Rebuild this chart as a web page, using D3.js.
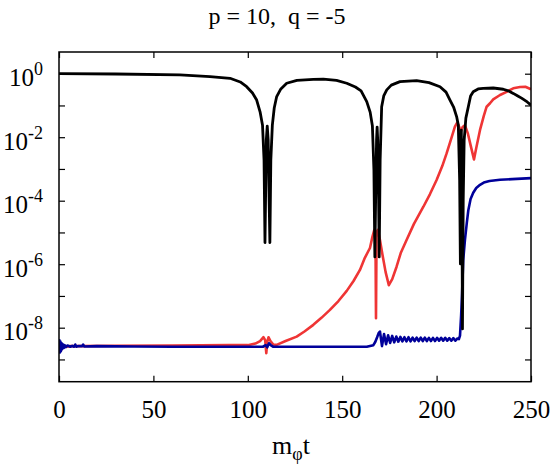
<!DOCTYPE html>
<html>
<head>
<meta charset="utf-8">
<script src="https://cdn.jsdelivr.net/npm/d3@7"></script>
<style>
  html, body { margin: 0; padding: 0; background: #fff; }
  svg { display: block; }
  svg text, svg tspan { font-family: 'Liberation Serif', 'Times New Roman', serif; fill: #000; }
</style>
</head>
<body>
<svg id="chart" width="555" height="471"></svg>
<script>
// ---- data (time m_phi t, and log10 of plotted quantity) ----
const titleText = "p = 10,  q = -5";
const xTickValues = [0, 50, 100, 150, 200, 250];
const yTickExponents = [0, -1, -2, -3, -4, -5, -6, -7, -8, -9];
const yLabelExponents = [0, -2, -4, -6, -8];

const blackT = [0, 30, 64, 80, 90.6, 96, 99.4, 102.5, 104.7, 106.5, 107.8, 108.6, 109.1, 109.4, 109.8, 110.3, 110.8, 111.3, 111.7, 112.2, 113, 114, 115.3, 117.5, 120.6, 126, 134.7, 140, 147, 152.4, 157, 160, 163, 164.8, 166, 166.8, 167.3, 167.7, 168.2, 168.5, 168.8, 169.3, 169.6, 170.1, 170.9, 172, 173.6, 176, 180.6, 189.4, 196, 201.8, 205, 207.1, 209, 210.6, 211.5, 212.2, 212.6, 212.9, 213.1, 213.4, 213.7, 214.1, 214.6, 215.5, 216.8, 218, 219.4, 222, 224.7, 230, 235.3, 238, 240.6, 243, 245, 248, 250];
const blackLog = [0, -0.01, -0.04, -0.09, -0.145, -0.26, -0.41, -0.61, -0.83, -1.2, -1.62, -2.72, -5.32, -3.98, -2.09, -1.65, -2.09, -3.98, -5.32, -2.72, -1.62, -1.08, -0.72, -0.48, -0.30, -0.21, -0.18, -0.17, -0.21, -0.30, -0.42, -0.54, -0.88, -1.21, -1.65, -3.03, -5.77, -3.98, -2.09, -1.68, -2.09, -3.98, -5.77, -2.72, -1.04, -0.70, -0.51, -0.36, -0.25, -0.22, -0.28, -0.41, -0.58, -0.83, -1.05, -1.35, -1.62, -3.35, -5.99, -3.35, -1.78, -3.98, -8.04, -3.98, -2.09, -1.40, -1.04, -0.70, -0.57, -0.48, -0.46, -0.45, -0.49, -0.54, -0.62, -0.70, -0.77, -0.89, -0.99];

const redT = [0, 0.25, 0.5, 0.75, 1.0, 1.3, 1.6, 2.0, 2.5, 3.0, 4, 6, 10, 30, 60, 90, 100, 104, 106.5, 108.3, 109.2, 109.8, 110.3, 111, 112, 113.5, 115.3, 120, 125.9, 130, 134.7, 139, 143.5, 148, 152.4, 156, 159.4, 162, 164.7, 166, 167, 167.6, 167.9, 168.2, 168.9, 170, 171.5, 173, 174.7, 176.5, 178.8, 181, 184.1, 188, 193, 196.5, 200, 203, 205.3, 207.5, 209.7, 210.9, 212, 212.8, 213.8, 215, 216.5, 218, 219.8, 221, 223, 225, 226.5, 228.3, 230, 233.6, 237.1, 240.6, 244.2, 247, 250];
const redLog = [-8.6, -8.45, -8.75, -8.48, -8.72, -8.52, -8.66, -8.55, -8.62, -8.57, -8.6, -8.58, -8.58, -8.57, -8.56, -8.55, -8.55, -8.5, -8.42, -8.30, -8.39, -8.8, -8.45, -8.30, -8.42, -8.53, -8.54, -8.42, -8.28, -8.12, -7.91, -7.69, -7.44, -7.16, -6.84, -6.53, -6.18, -5.80, -5.49, -5.14, -4.92, -5.0, -7.70, -5.0, -4.92, -5.24, -5.76, -6.25, -6.66, -6.47, -6.08, -5.65, -5.24, -4.73, -4.19, -3.79, -3.35, -2.91, -2.51, -2.09, -1.67, -1.54, -1.68, -1.83, -1.68, -1.62, -1.87, -2.25, -2.70, -2.34, -1.77, -1.33, -1.04, -0.93, -0.81, -0.67, -0.57, -0.46, -0.42, -0.41, -0.49];

const blueT = [0, 0.25, 0.5, 0.75, 1.0, 1.3, 1.6, 2.0, 2.5, 3.0, 3.6, 4.5, 6, 7, 8, 8.6, 9.2, 10, 12.3, 12.8, 13.3, 20, 40, 60, 80, 100, 106, 108, 109.5, 110.3, 111.2, 112.3, 113.5, 130, 150, 163, 166.5, 167.5, 168.5, 169.3,
  170.00, 171.08, 172.16, 173.24, 174.32, 175.40, 176.48, 177.56, 178.64, 179.72, 180.80, 181.88, 182.96, 184.04, 185.12, 186.20, 187.28, 188.36, 189.44, 190.52, 191.60, 192.68, 193.76, 194.84, 195.92, 197.00, 198.08, 199.16, 200.24, 201.32, 202.40, 203.48, 204.56, 205.64, 206.72, 207.80, 208.88, 209.96, 211.04,
  211.8, 212.4, 213.0, 213.5, 214.1, 215.0, 216.0, 216.8, 218, 219.4, 221, 223, 225, 228, 233.6, 240, 250];
const blueLog = [-8.57, -8.40, -8.78, -8.44, -8.74, -8.48, -8.68, -8.52, -8.64, -8.55, -8.61, -8.56, -8.6, -8.57, -8.6, -8.53, -8.6, -8.58, -8.58, -8.53, -8.59, -8.58, -8.59, -8.6, -8.6, -8.6, -8.6, -8.6, -8.55, -8.62, -8.49, -8.56, -8.6, -8.6, -8.6, -8.6, -8.55, -8.45, -8.3, -8.17,
  -8.12, -8.58, -8.20, -8.52, -8.24, -8.48, -8.26, -8.46, -8.28, -8.44, -8.29, -8.43, -8.30, -8.43, -8.30, -8.43, -8.31, -8.42, -8.31, -8.42, -8.31, -8.42, -8.31, -8.42, -8.32, -8.42, -8.32, -8.42, -8.32, -8.41, -8.32, -8.41, -8.32, -8.41, -8.33, -8.41, -8.33, -8.41, -8.34,
  -8.36, -8.25, -7.6, -6.9, -5.87, -5.24, -4.7, -4.3, -3.95, -3.75, -3.6, -3.5, -3.43, -3.38, -3.34, -3.32, -3.29];

// ---- layout ----
const FONT = "'Liberation Serif', 'Times New Roman', serif";
const svg = d3.select("#chart");
const plot = { left: 59, right: 531, top: 52, bottom: 381.7 };
const x = d3.scaleLinear().domain([0, 250]).range([plot.left, plot.right]);
const y = d3.scaleLog().domain([Math.pow(10, -9.701), Math.pow(10, 0.6835)]).range([plot.bottom, plot.top]);

function pairs(ts, logs) { return ts.map((t, i) => [t, Math.pow(10, logs[i])]); }

svg.append("defs").append("clipPath").attr("id", "clip")
  .append("rect").attr("x", plot.left).attr("y", plot.top)
  .attr("width", plot.right - plot.left).attr("height", plot.bottom - plot.top);

const line = d3.line().x(d => x(d[0])).y(d => y(d[1]));
const g = svg.append("g").attr("clip-path", "url(#clip)");
const series = [
  { data: pairs(redT, redLog), color: "#ef3535", w: 2.6 },
  { data: pairs(blueT, blueLog), color: "#00009a", w: 2.6 },
  { data: pairs(blackT, blackLog), color: "#000000", w: 2.8 }
];
series.forEach(s => {
  g.append("path").datum(s.data).attr("d", line)
    .attr("fill", "none").attr("stroke", s.color).attr("stroke-width", s.w)
    .attr("stroke-linejoin", "round").attr("stroke-linecap", "butt");
});

// ---- axes (inward ticks on all four sides) ----
const tickLen = 6;
const yTicks = yTickExponents.map(e => Math.pow(10, e));
function styleAxis(sel) {
  sel.attr("font-family", FONT);
  sel.select(".domain").remove();
  sel.selectAll(".tick line").attr("stroke", "#000").attr("stroke-width", 1.2);
}
svg.append("g").attr("transform", `translate(${plot.left},0)`)
  .call(d3.axisLeft(y).tickValues(yTicks).tickSize(-tickLen).tickFormat(""))
  .call(styleAxis);
svg.append("g").attr("transform", `translate(${plot.right},0)`)
  .call(d3.axisRight(y).tickValues(yTicks).tickSize(-tickLen).tickFormat(""))
  .call(styleAxis);
svg.append("g").attr("transform", `translate(0,${plot.top})`)
  .call(d3.axisTop(x).tickValues(xTickValues).tickSize(-tickLen).tickFormat(""))
  .call(styleAxis);
const xAxisG = svg.append("g").attr("transform", `translate(0,${plot.bottom})`)
  .call(d3.axisBottom(x).tickValues(xTickValues).tickSize(-tickLen).tickFormat(d3.format("d")))
  .call(styleAxis);
xAxisG.attr("font-size", 25);
xAxisG.selectAll(".tick text").attr("y", 36.5).attr("dy", 0)
  .attr("font-size", 25).style("font-size", "25px").attr("fill", "#000");

// frame
svg.append("rect").attr("x", plot.left).attr("y", plot.top)
  .attr("width", plot.right - plot.left).attr("height", plot.bottom - plot.top)
  .attr("fill", "none").attr("stroke", "#000").attr("stroke-width", 1.5);

// y labels: 10^e
const yLab = svg.append("g");
yLabelExponents.forEach(e => {
  const t = yLab.append("text").attr("x", 43).attr("y", y(Math.pow(10, e)) + 12.5)
    .attr("text-anchor", "end").style("font-size", "25px");
  t.append("tspan").text("10");
  t.append("tspan").attr("dy", -11).style("font-size", "18px").text(String(e));
});

// x label
const xl = svg.append("text").attr("x", 291).attr("y", 454)
  .attr("text-anchor", "middle").style("font-size", "26px");
xl.append("tspan").text("m");
xl.append("tspan").attr("dy", 6).style("font-size", "18px").text("φ");
xl.append("tspan").attr("dy", -6).text("t");

// title
svg.append("text").attr("x", 277).attr("y", 23.5).attr("text-anchor", "middle")
  .style("font-size", "24px").style("white-space", "pre").attr("xml:space", "preserve")
  .text(titleText);
</script>
</body>
</html>
